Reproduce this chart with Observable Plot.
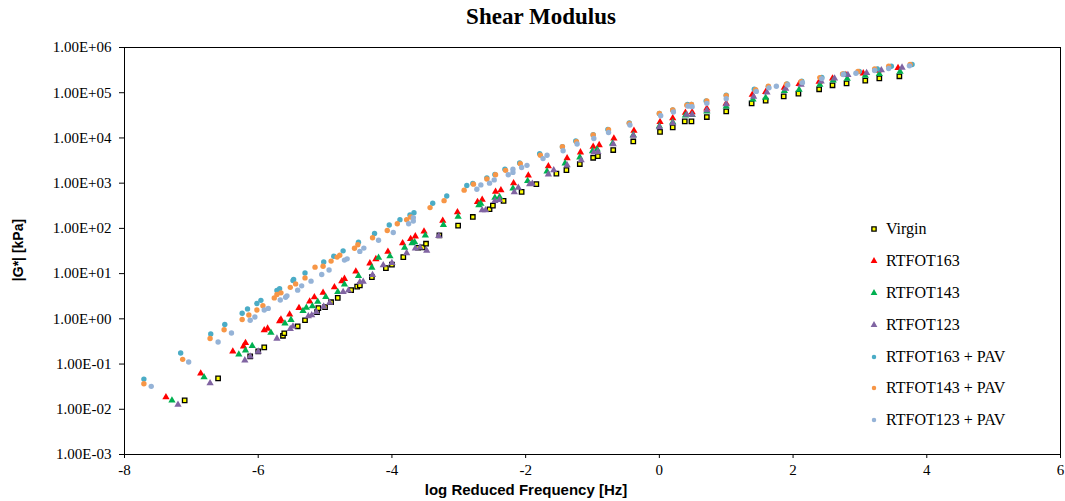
<!DOCTYPE html>
<html>
<head>
<meta charset="utf-8">
<script src="https://cdn.jsdelivr.net/npm/d3@7"></script>
<script src="https://cdn.jsdelivr.net/npm/@observablehq/plot@0.6"></script>
<style>
  html, body { margin: 0; padding: 0; background: #fff; }
  #wrap { position: relative; width: 1065px; height: 501px; overflow: hidden; }
  #title { position: absolute; left: 0; top: 4px; width: 1082px; text-align: center;
           font: bold 23px "Liberation Serif", serif; color: #000; }
  #ylab { position: absolute; left: 18px; top: 250px; transform: translate(-50%, -50%) rotate(-90deg);
          font: bold 14px "Liberation Sans", Arial, sans-serif; white-space: nowrap; color: #000; }
  #xlab { position: absolute; left: 526px; top: 481px; transform: translateX(-50%);
          font: bold 15px "Liberation Sans", Arial, sans-serif; white-space: nowrap; color: #000; }
  #legend { position: absolute; left: 869px; top: 213px; font: 16px "Liberation Serif", serif; color: #000; }
  .row { height: 31.9px; display: flex; align-items: center; }
  .row svg { margin-right: 7px; }
</style>
</head>
<body>
<div id="wrap">
  <div id="chart"></div>
  <div id="title">Shear Modulus</div>
  <div id="ylab">|G*| [kPa]</div>
  <div id="xlab">log Reduced Frequency [Hz]</div>
  <div id="legend"></div>
</div>
<script>
// ---- tick labels ----
const xTicks = [-8, -6, -4, -2, 0, 2, 4, 6];
const yTicks = [1e-3, 1e-2, 1e-1, 1e0, 1e1, 1e2, 1e3, 1e4, 1e5, 1e6];

// ---- series names ----
const seriesNames = ["Virgin", "RTFOT163", "RTFOT143", "RTFOT123", "RTFOT163 + PAV", "RTFOT143 + PAV", "RTFOT123 + PAV"];

// ---- Virgin ----
const virginX = [-7.10,-6.60,-6.12,-6.00,-5.91,-5.63,-5.61,-5.41,-5.30,-5.12,-5.10,-5.00,-4.91,-4.81,-4.61,-4.52,-4.48,-4.30,-4.09,-4.00,-3.83,-3.61,-3.54,-3.49,-3.29,-3.01,-2.79,-2.54,-2.49,-2.33,-2.06,-1.84,-1.54,-1.39,-1.19,-0.99,-0.92,-0.69,-0.39,0.01,0.20,0.38,0.48,0.71,1.00,1.38,1.59,1.86,2.08,2.39,2.59,2.80,3.08,3.29,3.59];
const virginG = [0.0157,0.0482,0.148,0.191,0.234,0.422,0.48,0.685,0.93,1.40,1.72,1.81,2.33,2.90,4.31,5.15,5.47,8.36,13.2,15.8,23.2,37.3,38.1,45.8,70.3,115,179,265,319,405,641,951,1630,1940,2650,3640,3970,5400,8360,13600,17100,23200,23200,29000,38700,58200,66800,83200,95500,119000,146000,161000,185000,208000,231000];

// ---- RTFOT163 ----
const r163X = [-7.38,-6.86,-6.38,-6.22,-6.19,-5.91,-5.86,-5.68,-5.66,-5.53,-5.39,-5.23,-5.16,-5.03,-4.86,-4.75,-4.71,-4.54,-4.33,-4.24,-4.06,-3.84,-3.72,-3.65,-3.52,-3.24,-3.02,-2.72,-2.65,-2.45,-2.37,-2.18,-1.96,-1.66,-1.38,-1.18,-0.99,-0.90,-0.68,-0.38,0.01,0.20,0.39,0.49,0.71,1.00,1.39,1.59,1.87,2.09,2.39,2.59,2.79,3.05,3.27,3.57];
const r163G = [0.0185,0.0622,0.191,0.247,0.292,0.559,0.61,0.885,0.964,1.25,1.75,2.43,3.01,3.79,5.02,6.82,7.67,11.2,16.9,21.0,30.4,47.0,58.2,66.8,85.3,148,228,385,431,649,700,1000,1480,2380,3580,4820,6380,6970,9750,14500,22500,27300,36200,37200,44900,57900,90800,104000,130000,157000,176000,208000,248000,269000,309000,355000];

// ---- RTFOT143 ----
const r143X = [-7.29,-6.81,-6.29,-6.19,-6.09,-5.81,-5.60,-5.51,-5.33,-5.28,-5.19,-5.11,-4.99,-4.81,-4.71,-4.50,-4.30,-4.20,-4.03,-3.81,-3.70,-3.66,-3.50,-3.23,-3.01,-2.70,-2.67,-2.46,-2.39,-2.19,-1.97,-1.68,-1.41,-1.19,-1.00,-0.93,-0.70,-0.39,0.00,0.20,0.39,0.49,0.71,1.00,1.40,1.59,1.87,2.09,2.40,2.60,2.81,3.08,3.29,3.60];
const r143G = [0.0157,0.0513,0.163,0.201,0.252,0.492,0.791,0.951,1.49,1.77,1.90,2.39,3.04,3.94,5.77,8.89,13.6,22.4,24.2,37.3,47.4,49.4,69.7,119,182,325,353,480,497,767,1120,1830,2750,3730,5130,5560,7550,11600,18200,22300,31500,32200,38700,49900,71400,77800,110000,117000,151000,188000,205000,239000,261000,294000];

// ---- RTFOT123 ----
const r123X = [-7.20,-6.72,-6.20,-6.12,-6.00,-5.72,-5.52,-5.48,-5.25,-5.20,-5.13,-5.02,-4.93,-4.73,-4.65,-4.48,-4.43,-4.29,-4.13,-4.00,-3.78,-3.65,-3.58,-3.48,-3.30,-2.65,-2.60,-2.46,-2.39,-2.17,-2.11,-1.94,-1.90,-1.66,-1.58,-1.38,-1.17,-0.98,-0.92,-0.69,-0.39,0.00,0.20,0.41,0.49,0.71,1.00,1.41,1.61,1.89,2.12,2.42,2.62,2.82,3.10,3.32,3.63];
const r123G = [0.0126,0.0379,0.121,0.148,0.189,0.366,0.597,0.678,1.14,1.20,1.42,1.87,2.28,3.93,4.24,6.48,6.65,9.35,15.3,17.3,28.5,36.2,38.1,32.1,67.8,252,252,405,427,635,798,951,975,1570,1940,2510,3240,4760,4940,7330,11200,17400,21200,32700,32700,41100,55800,82000,102000,123000,151000,179000,208000,248000,275000,314000,360000];

// ---- RTFOT163 + PAV ----
const p163X = [-7.71,-7.16,-6.71,-6.50,-6.24,-6.16,-6.02,-5.96,-5.72,-5.68,-5.48,-5.47,-5.30,-5.02,-4.87,-4.73,-4.50,-4.26,-4.04,-3.88,-3.73,-3.67,-3.39,-3.18,-2.88,-2.79,-2.58,-2.46,-2.31,-2.09,-1.79,-1.45,-1.25,-0.99,-0.77,-0.45,0.00,0.20,0.42,0.48,0.70,1.00,1.42,1.63,1.91,2.13,2.43,2.76,2.99,3.26,3.47,3.78];
const p163G = [0.0465,0.175,0.462,0.748,1.33,1.66,2.18,2.56,4.24,4.65,7.0,7.43,10.3,18.0,24.2,31.9,49.4,77.1,119,156,198,223,361,522,885,980,1310,1550,2040,2790,4470,6380,8530,11800,15400,21400,34800,41600,55100,55100,65800,88100,119000,136000,157000,179000,219000,261000,294000,337000,385000,420000];

// ---- RTFOT143 + PAV ----
const p143X = [-7.71,-7.13,-6.72,-6.51,-6.24,-6.14,-6.02,-5.93,-5.76,-5.72,-5.66,-5.52,-5.44,-5.30,-5.15,-5.03,-4.91,-4.82,-4.78,-4.56,-4.51,-4.29,-4.07,-3.92,-3.78,-3.72,-3.43,-3.22,-2.92,-2.78,-2.58,-2.45,-2.30,-2.08,-1.78,-1.45,-1.24,-0.99,-0.76,-0.45,0.00,0.20,0.41,0.48,0.71,1.00,1.44,1.63,1.90,2.12,2.40,2.74,2.97,3.22,3.43,3.75];
const p143G = [0.0367,0.127,0.366,0.573,0.964,1.22,1.57,1.95,2.90,3.46,3.75,4.97,5.92,8.04,13.9,14.5,18.9,23.2,25.4,36.4,43.6,61.9,89.7,127,156,179,288,411,700,951,1240,1530,1920,2680,4130,6380,8240,11600,15200,21000,34900,41600,53100,55000,65800,86300,117000,139000,155000,176000,216000,261000,294000,337000,385000,420000];

// ---- RTFOT123 + PAV ----
const p123X = [-7.60,-7.04,-6.60,-6.40,-6.12,-6.05,-5.91,-5.85,-5.67,-5.59,-5.57,-5.41,-5.35,-5.21,-5.05,-4.94,-4.71,-4.67,-4.48,-4.42,-4.20,-3.98,-3.75,-3.68,-3.68,-2.73,-2.67,-2.54,-2.47,-2.26,-2.19,-2.19,-2.06,-1.98,-1.74,-1.68,-1.44,-1.23,-0.98,-0.76,-0.44,0.02,0.21,0.43,0.49,0.71,1.00,1.45,1.64,1.75,1.92,2.14,2.43,2.75,2.94,3.22,3.43,3.74];
const p123G = [0.0321,0.111,0.308,0.486,0.931,1.10,1.57,1.70,2.61,3.01,3.22,4.31,5.36,6.82,9.59,12.0,19.9,21.2,31.0,36.7,54.5,81.1,127,146,173,736,916,1000,1180,1530,1730,2040,2220,2480,3490,4130,5200,7330,9750,13200,19300,31000,37500,50500,49200,58200,74000,107000,128000,139000,149000,167000,205000,252000,269000,309000,342000,393000];

const series = [
  {name: seriesNames[0], xs: virginX, gs: virginG, symbol: "square", fill: "#FFFF00", stroke: "#000", r: 2.5, sw: 1.3},
  {name: seriesNames[1], xs: r163X, gs: r163G, symbol: "triangle", fill: "#FF0000", stroke: "none", r: 2.7, sw: 0},
  {name: seriesNames[2], xs: r143X, gs: r143G, symbol: "triangle", fill: "#00B050", stroke: "none", r: 2.7, sw: 0},
  {name: seriesNames[3], xs: r123X, gs: r123G, symbol: "triangle", fill: "#8064A2", stroke: "none", r: 2.7, sw: 0},
  {name: seriesNames[4], xs: p163X, gs: p163G, symbol: "circle", fill: "#4BACC6", stroke: "none", r: 2.7, sw: 0},
  {name: seriesNames[5], xs: p143X, gs: p143G, symbol: "circle", fill: "#F79646", stroke: "none", r: 2.7, sw: 0},
  {name: seriesNames[6], xs: p123X, gs: p123G, symbol: "circle", fill: "#95B3D7", stroke: "none", r: 2.7, sw: 0}
];

const fmtE = d => {
  const e = Math.round(Math.log10(d));
  return "1.00E" + (e < 0 ? "-" : "+") + String(Math.abs(e)).padStart(2, "0");
};

const dotMarks = series.map(s => Plot.dot(s.xs.map((x, i) => ({x, g: s.gs[i]})), {
  x: "x", y: "g", symbol: () => s.symbol, r: s.r, fill: s.fill,
  stroke: s.stroke, strokeWidth: s.sw
}));

const chart = Plot.plot({
  width: 1065, height: 501,
  marginLeft: 124, marginRight: 5, marginTop: 47, marginBottom: 47,
  style: {fontFamily: "'Liberation Serif', serif", fontSize: "15px", color: "#000", background: "#fff"},
  x: {domain: [-8, 6], label: null},
  y: {type: "log", domain: [1e-3, 1e6], label: null},
  symbol: {type: "identity"},
  marks: [
    Plot.axisX({ticks: xTicks, tickSize: 4, tickPadding: 6, label: null, tickFormat: d => String(d).replace("−", "-"), fontSize: 15, fontFamily: "'Liberation Serif', serif"}),
    Plot.axisY({ticks: yTicks, tickSize: 5, tickPadding: 8, label: null, tickFormat: fmtE, fontSize: 15, fontFamily: "'Liberation Serif', serif"}),
    Plot.frame({stroke: "#000", strokeWidth: 1}),
    ...dotMarks
  ]
});
document.getElementById("chart").appendChild(chart);

// legend
const legend = d3.select("#legend");
series.forEach(s => {
  const row = legend.append("div").attr("class", "row");
  const svg = row.append("svg").attr("width", 10).attr("height", 10);
  const sym = s.symbol === "square" ? d3.symbolSquare : s.symbol === "triangle" ? d3.symbolTriangle : d3.symbolCircle;
  const size = s.symbol === "square" ? 18 : s.symbol === "triangle" ? 20 : 16;
  svg.append("path").attr("transform", "translate(5,5)")
    .attr("d", d3.symbol(sym, size)())
    .attr("fill", s.fill).attr("stroke", s.stroke === "none" ? null : s.stroke).attr("stroke-width", s.sw);
  row.append("span").text(s.name);
});
</script>
</body>
</html>
